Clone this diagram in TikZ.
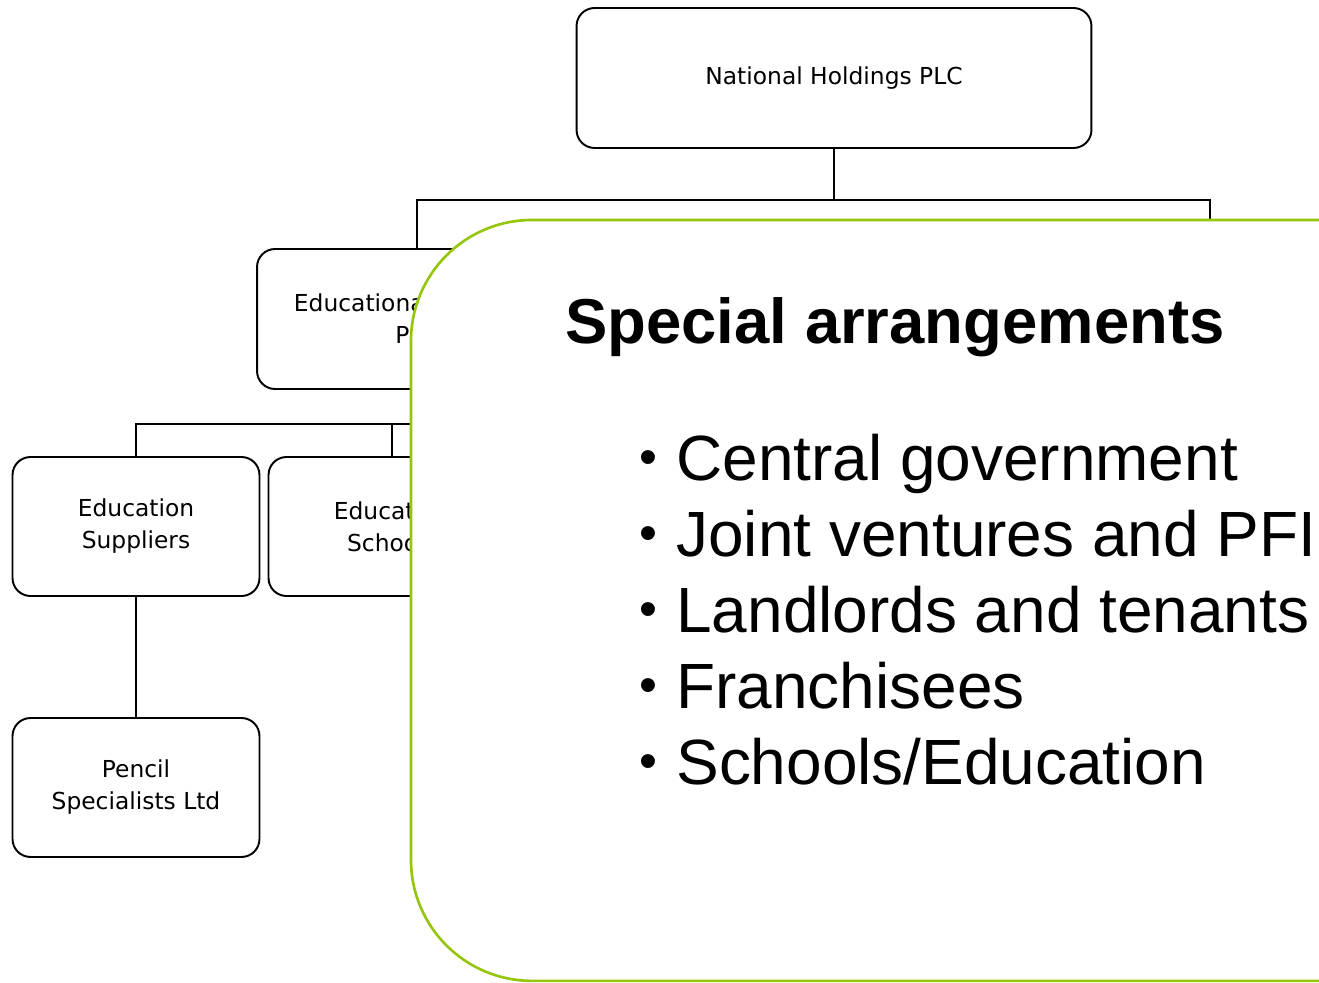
\documentclass[tikz,border=0pt]{standalone}
\usepackage{fontspec}
\setmainfont{Liberation Sans}
\newfontfamily\orgfont{DejaVu Sans}
\definecolor{panelgreen}{RGB}{150,198,12}
\tikzset{
  orgbox/.style={draw, line width=1.1pt, rounded corners=0.36cm, fill=white,
    align=center, inner sep=0pt, font=\orgfont\fontsize{13.3}{18.2}\selectfont},
  link/.style={line width=1.1pt},
  panel/.style={draw=panelgreen, line width=1.5pt, fill=white,
    rounded corners=2.42cm, inner sep=0pt, outer sep=0pt},
  bulletitem/.style={anchor=base west, inner sep=0pt,
    font=\fontsize{36.4}{43.7}\selectfont}
}
\newcommand{\smallbullet}{\llap{\raisebox{0.08em}{\scalebox{0.8}{\textbullet}}\hspace{0.3em}}}

\begin{document}
\begin{tikzpicture}[x=0.02cm, y=-0.02cm]
        \clip (0,0) rectangle (1319,983);
        % group structure
        \node[orgbox, minimum width=10.3cm, minimum height=2.8cm] (national) at (834,78) {National Holdings PLC};
        \node[orgbox, minimum width=6.4cm, minimum height=2.8cm] (educational) at (417,319) {Educational Holdings\\PLC};
        \node[orgbox, minimum width=4.94cm, minimum height=2.78cm] (suppliers) at (136,526.5) {Education\\Suppliers};
        \node[orgbox, minimum width=4.94cm, minimum height=2.78cm] (schools) at (392,526.5) {Education\\Schools};
        \node[orgbox, minimum width=4.94cm, minimum height=2.78cm] (pencil) at (136,787.5) {Pencil\\Specialists Ltd};
        \coordinate (rightstub) at (1210,230);

        \draw[link] (national.south) -- ++(0,51) -| (educational.north);
        \draw[link] (national.south) -- ++(0,51) -| (rightstub);
        \draw[link] (educational.south) -- ++(0,34) -| (suppliers.north);
        \draw[link] (educational.south) -- ++(0,34) -| (schools.north);
        \draw[link] (suppliers) -- (pencil);

        % special arrangements panel
        \node[panel, anchor=north west, minimum width=21.2cm, minimum height=15.22cm] (panel) at (411,220) {};
        \node[anchor=base west, inner sep=0pt, font=\bfseries\fontsize{36.1}{43}\selectfont] (title) at (565,343) {Special arrangements};
        \foreach \n/\entry in {
            0/Central government,
            1/Joint ventures and PFI,
            2/Landlords and tenants,
            3/Franchisees,
            4/Schools\slash Education
        } {
            \node[bulletitem] (entry\n) at (676,{480+76*\n}) {\smallbullet\entry};
        }
\end{tikzpicture}
\end{document}
